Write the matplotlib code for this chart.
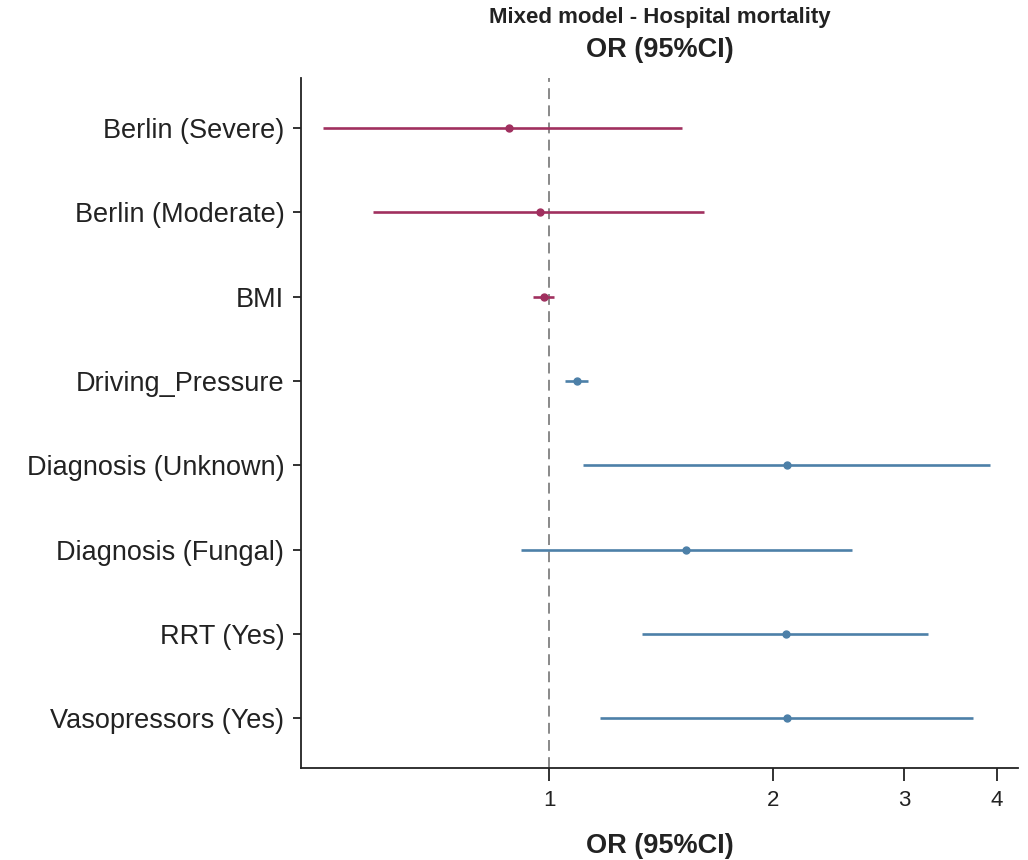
import matplotlib
matplotlib.use("Agg")
import matplotlib.pyplot as plt
from matplotlib import font_manager
from matplotlib.ticker import FixedLocator, FixedFormatter, NullLocator

# Odds ratios with 95% confidence intervals (mixed model, hospital mortality)
labels = ["Berlin (Severe)", "Berlin (Moderate)", "BMI", "Driving_Pressure",
          "Diagnosis (Unknown)", "Diagnosis (Fungal)", "RRT (Yes)", "Vasopressors (Yes)"]
odds_ratio = [0.882, 0.972, 0.983, 1.089, 2.087, 1.526, 2.080, 2.087]
ci_low = [0.497, 0.579, 0.951, 1.051, 1.110, 0.916, 1.332, 1.171]
ci_high = [1.509, 1.616, 1.015, 1.129, 3.910, 2.551, 3.234, 3.710]
groups = ["a", "a", "a", "b", "b", "b", "b", "b"]
group_colors = {"a": "#a0305f", "b": "#4d80a8"}

x_ticks = [1, 2, 3, 4]
x_tick_labels = ["1", "2", "3", "4"]

title_main = "Mixed model - Hospital mortality"
title_sub = "OR (95%CI)"
x_label = "OR (95%CI)"

plt.rcParams["font.family"] = ["Liberation Sans", "DejaVu Sans"]
installed = {f.name for f in font_manager.fontManager.ttflist}
narrow = "Liberation Sans Narrow" if "Liberation Sans Narrow" in installed else None
ink = "#222222"

fig = plt.figure(figsize=(10.28, 8.6), dpi=100)
ax = fig.add_axes([0.2928, 0.107, 0.6975, 0.802])

ax.axvline(1, color="#808080", lw=1.3, ls=(0, (6, 3.5)), zorder=1)

for i, (m, lo, hi, g) in enumerate(zip(odds_ratio, ci_low, ci_high, groups)):
    c = group_colors[g]
    ax.plot([lo, hi], [i, i], color=c, lw=1.9, solid_capstyle="butt", zorder=2)
    ax.plot(m, i, "o", color=c, ms=5, zorder=3)

ax.set_xscale("log")
ax.set_xlim(0.464, 4.27)
ax.xaxis.set_major_locator(FixedLocator(x_ticks))
ax.xaxis.set_major_formatter(FixedFormatter(x_tick_labels))
ax.xaxis.set_minor_locator(NullLocator())

ax.set_ylim(len(labels) - 0.41, -0.59)
ax.set_yticks(range(len(labels)))
ax.set_yticklabels(labels)

for side in ("top", "right"):
    ax.spines[side].set_visible(False)
for side in ("left", "bottom"):
    ax.spines[side].set_linewidth(1.3)
    ax.spines[side].set_color(ink)

ax.tick_params(axis="x", length=9, width=1.3, labelsize=16, pad=7, colors=ink)
ax.tick_params(axis="y", length=6, width=1.3, labelsize=19.5, pad=6, colors=ink)

ax.set_xlabel(x_label, fontsize=19.5, fontweight="bold", labelpad=16, color=ink)

cx = 0.2928 + 0.6975 / 2
if narrow:
    fig.text(cx, 1 - 18 / 860, title_main, ha="center", va="center",
             fontsize=19, fontweight="bold", family=[narrow, "Liberation Sans"], color=ink)
else:
    fig.text(cx, 1 - 18 / 860, title_main, ha="center", va="center",
             fontsize=16, fontweight="bold", color=ink)
fig.text(cx, 1 - 50 / 860, title_sub, ha="center", va="center",
         fontsize=19.5, fontweight="bold", color=ink)

fig.savefig("out.png", dpi=100)
